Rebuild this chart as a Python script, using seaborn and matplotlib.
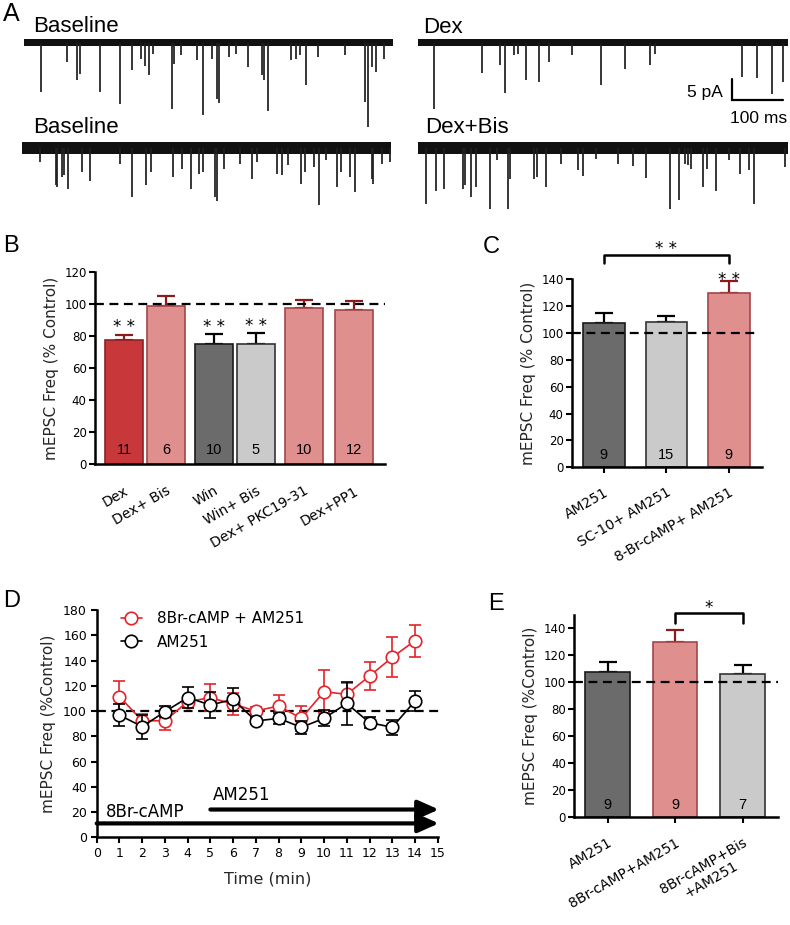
import numpy as np
import pandas as pd
import matplotlib
matplotlib.use('Agg')
import matplotlib.pyplot as plt
from matplotlib.lines import Line2D
import seaborn as sns

# ---------------- data ----------------
# Panel A: miniature EPSC events (time in ms, amplitude in pA)
base1_t = [33, 84, 104, 110, 149, 188, 211, 229, 237, 245, 253, 290, 294, 308, 339,
           350, 368, 379, 383, 402, 416, 438, 466, 471, 479, 523, 533, 541, 553, 576,
           629, 668, 674, 681, 690, 706]
base1_amp = [11.7, 4.5, 8.8, 7.4, 11.7, 14.5, 6.4, 3.8, 5.5, 7.6, 2.6, 15.7, 5.0, 2.9, 4.0,
             17.1, 3.8, 13.3, 14.3, 3.3, 2.6, 5.7, 7.6, 8.8, 16.2, 4.0, 3.8, 2.9, 10.0, 3.3,
             2.9, 14.0, 20.0, 5.7, 6.9, 3.8]
dex_t = [31, 124, 160, 170, 188, 196, 211, 237, 256, 301, 358, 405, 453, 463, 634, 662, 693, 714]
dex_amp = [15.9, 7.3, 5.2, 11.9, 2.9, 2.6, 8.8, 9.3, 4.5, 2.9, 10.0, 6.2, 5.2, 2.6, 8.1, 8.3,
           12.1, 9.3]
base2_t = [35, 67, 69, 78, 82, 90, 118, 134, 193, 217, 244, 253, 297, 315, 331, 348, 355,
           379, 382, 397, 428, 451, 462, 501, 510, 521, 547, 556, 572, 583, 596, 617, 626,
           643, 653, 686, 689, 706, 722]
base2_amp = [3.3, 8.8, 9.3, 6.9, 6.4, 9.8, 5.7, 7.9, 3.8, 11.7, 8.8, 5.7, 6.9, 5.0, 9.8, 6.2,
             5.7, 11.7, 12.6, 5.0, 3.8, 7.4, 3.3, 6.2, 6.4, 4.0, 8.6, 5.7, 4.5, 13.6, 2.9,
             9.3, 5.7, 6.9, 10.5, 7.4, 8.6, 3.8, 3.3]
dexbis_t = [16, 35, 52, 89, 93, 104, 114, 142, 155, 176, 181, 227, 233, 250, 280, 313, 323,
            348, 391, 421, 447, 493, 511, 523, 529, 535, 558, 566, 583, 609, 630, 648, 658, 717]
dexbis_amp = [13.3, 10.2, 9.8, 9.8, 8.8, 11.7, 9.3, 14.5, 2.9, 14.5, 7.4, 7.4, 6.9, 9.3, 3.8,
              5.2, 6.7, 2.6, 3.8, 4.3, 7.1, 14.5, 12.4, 3.8, 4.0, 5.0, 9.3, 5.0, 10.2, 2.9,
              6.2, 5.2, 13.3, 4.5]

# Panel B
b_labels = ['Dex', 'Dex+ Bis', 'Win', 'Win+ Bis', 'Dex+ PKC19-31', 'Dex+PP1']
b_mean = [77.5, 99.0, 75.5, 75.5, 97.5, 96.3]
b_sem = [3.5, 6.2, 6.0, 6.3, 5.5, 5.8]
b_n = [11, 6, 10, 5, 10, 12]
b_sig = ['* *', '', '* *', '* *', '', '']

# Panel C
c_labels = ['AM251', 'SC-10+ AM251', '8-Br-cAMP+ AM251']
c_mean = [107.5, 108.0, 130.0]
c_sem = [7.3, 5.0, 8.7]
c_n = [9, 15, 9]

# Panel D
d_time = [1, 2, 3, 4, 5, 6, 7, 8, 9, 10, 11, 12, 13, 14]
d_8br_mean = [111.4, 92.3, 92.3, 107.4, 110.6, 105.5, 100.0, 104.0, 94.2, 115.3, 113.2,
              127.7, 142.5, 155.7]
d_8br_sem = [12.5, 5.0, 7.0, 4.5, 10.5, 8.8, 3.5, 9.0, 10.0, 17.0, 9.0, 10.8, 15.8, 12.8]
d_am_mean = [96.8, 87.6, 99.5, 110.6, 104.8, 109.2, 92.1, 94.2, 87.1, 94.2, 106.0, 90.8,
             87.1, 107.9]
d_am_sem = [8.7, 9.6, 4.6, 8.6, 10.0, 9.0, 2.0, 4.3, 5.0, 6.3, 17.0, 4.6, 6.0, 8.0]

# Panel E
e_labels = ['AM251', '8Br-cAMP+AM251', '8Br-cAMP+Bis\n+AM251']
e_mean = [107.4, 130.0, 106.1]
e_sem = [7.4, 8.7, 6.7]
e_n = [9, 9, 7]

# ---------------- style ----------------
RED = '#C8373A'
PINK = '#E08F8F'
PINK_EDGE = '#A3454A'
DARKRED = '#8B1A1A'
DGRAY = '#6B6B6B'
LGRAY = '#CACACA'
LINE_RED = '#E3242B'

sns.set_theme(style='ticks')
plt.rcParams['font.family'] = ['DejaVu Sans']
plt.rcParams.update({
    'axes.linewidth': 1.8,
    'xtick.major.width': 1.5, 'ytick.major.width': 1.5,
    'xtick.major.size': 4, 'ytick.major.size': 4,
    'xtick.color': 'black', 'ytick.color': 'black',
    'axes.edgecolor': 'black', 'text.color': 'black',
})
ARIAL = 'Liberation Sans'

W, H = 790, 925
fig = plt.figure(figsize=(W / 100, H / 100), dpi=100)


def px_axes(x0, y0, x1, y1):
    return fig.add_axes([x0 / W, 1 - y1 / H, (x1 - x0) / W, (y1 - y0) / H])


def ptext(x, y, s, **kw):
    kw.setdefault('family', ARIAL)
    kw.setdefault('va', 'baseline')
    fig.text(x / W, 1 - y / H, s, **kw)


# ---------------- panel A ----------------
def draw_trace(ax, t, amp, band, ylo):
    ax.fill_between([0, 723], -band, band, color='#111111', lw=0)
    ax.vlines(t, 0, -np.asarray(amp), color='#1e1e1e', lw=1.25)
    ax.set_xlim(0, 723)
    ax.set_ylim(ylo, 3)
    ax.axis('off')


axA1 = px_axes(24, 30.1, 393, 135.1)
draw_trace(axA1, base1_t, base1_amp, 0.85, -22)
axA2 = px_axes(418.3, 30.1, 787.7, 135.1)
draw_trace(axA2, dex_t, dex_amp, 0.85, -22)
axA3 = px_axes(21.7, 135.1, 390.7, 214.9)
draw_trace(axA3, base2_t, base2_amp, 1.4, -16)
axA4 = px_axes(417.7, 135.1, 787.7, 214.9)
draw_trace(axA4, dexbis_t, dexbis_amp, 1.4, -16)
# scale bar 100 ms / 5 pA
axA2.plot([614, 614, 714], [-8.64, -13.64, -13.64], color='black', lw=1.6,
          clip_on=False, solid_joinstyle='miter')

ptext(3, 21, 'A', fontsize=18)
ptext(33, 32, 'Baseline', fontsize=16)
ptext(423, 33, 'Dex', fontsize=16)
ptext(33, 133, 'Baseline', fontsize=16)
ptext(425, 133, 'Dex+Bis', fontsize=16)
ptext(723, 97, '5 pA', fontsize=12.5, ha='right')
ptext(730, 123, '100 ms', fontsize=12.5, ha='left')


# ---------------- helpers for bar panels ----------------
def bar_panel(ax, pos, labels, means, sems, ns, colors, edges, ecolors, width,
              native=False):
    df = pd.DataFrame({'pos': pos, 'mean': means, 'label': labels})
    sns.barplot(data=df, x='pos', y='mean', hue='label',
                palette=dict(zip(labels, colors)), native_scale=native,
                width=width, errorbar=None, legend=False, linewidth=1.2, ax=ax,
                saturation=1, zorder=2)
    for p in ax.patches:
        cx = p.get_x() + p.get_width() / 2
        i = int(np.argmin([abs(cx - q) for q in pos]))
        p.set_edgecolor(edges[i])
    for i in range(len(pos)):
        ax.errorbar([pos[i]], [means[i]], yerr=[[0], [sems[i]]], fmt='none',
                    ecolor=ecolors[i], elinewidth=1.6, capsize=6.5, capthick=1.6,
                    zorder=1.5)
        ax.text(pos[i], 9, str(ns[i]), ha='center', va='center', fontsize=10.5,
                family=ARIAL, zorder=4)
    sns.despine(ax=ax)
    ax.tick_params(axis='y', labelsize=8.5, pad=2)
    ax.set_xlabel('')


# ---------------- panel B ----------------
axB = px_axes(95, 272.3, 385, 464.3)
b_slots = [0, 1, 2.14, 3.14, 4.29, 5.48]
bar_panel(axB, b_slots, b_labels, b_mean, b_sem, b_n,
          [RED, PINK, DGRAY, LGRAY, PINK, PINK],
          ['#8B2225', PINK_EDGE, '#1a1a1a', '#333333', PINK_EDGE, PINK_EDGE],
          [DARKRED, DARKRED, 'black', 'black', DARKRED, DARKRED], 0.9, native=True)
axB.set_xlim(-0.69, 6.22)
axB.set_ylim(0, 120)
axB.set_yticks(range(0, 121, 20))
axB.axhline(100, color='black', lw=1.6, ls=(0, (4, 2.5)), zorder=3)
for x, m, s, sig in zip(b_slots, b_mean, b_sem, b_sig):
    if sig:
        axB.text(x, m + s + 1.5, sig, ha='center', va='baseline', fontsize=12)
axB.set_xticks(b_slots, b_labels, rotation=30, ha='right', va='top',
               rotation_mode='anchor', fontsize=10)
axB.tick_params(axis='x', length=0, pad=14)
axB.set_ylabel('mEPSC Freq (% Control)', fontsize=11, labelpad=4)
ptext(3, 252, 'B', fontsize=17)

# ---------------- panel C ----------------
axC = px_axes(572, 279.3, 762, 467.3)
c_slots = [0, 1, 2]
bar_panel(axC, c_slots, c_labels, c_mean, c_sem, c_n,
          [DGRAY, LGRAY, PINK], ['#1a1a1a', '#333333', PINK_EDGE],
          ['black', 'black', DARKRED], 0.66)
axC.set_xlim(-0.51, 2.53)
axC.set_ylim(0, 140)
axC.set_yticks(range(0, 141, 20))
axC.plot([-0.51, 2.43], [100, 100], color='black', lw=1.6, ls=(0, (4, 2.5)), zorder=3)
axC.text(2, 136, '* *', ha='center', va='baseline', fontsize=12, zorder=5)
axC.plot([0, 0, 2, 2], [152, 158, 158, 152], color='black', lw=1.8, clip_on=False)
axC.text(1, 159, '* *', ha='center', va='baseline', fontsize=12)
axC.set_xticks(c_slots, c_labels, rotation=30, ha='right', va='top',
               rotation_mode='anchor', fontsize=10)
axC.tick_params(axis='x', pad=9)
axC.set_ylabel('mEPSC Freq (% Control)', fontsize=11, labelpad=4)
ptext(483, 253, 'C', fontsize=17)

# ---------------- panel D ----------------
axD = px_axes(96.7, 610, 437.7, 837.3)
axD.plot([0, 15.18], [100, 100], color='black', lw=1.6, ls=(0, (4, 2.5)),
         clip_on=False, zorder=1)
axD.errorbar(d_time, d_8br_mean, yerr=d_8br_sem, fmt='none', ecolor=LINE_RED,
             elinewidth=1.2, capsize=4, capthick=1.2, zorder=2)
sns.lineplot(x=d_time, y=d_8br_mean, color=LINE_RED, marker='o', markersize=9,
             markerfacecolor='white', markeredgecolor=LINE_RED, markeredgewidth=1.2,
             lw=1.2, ax=axD, zorder=3)
axD.errorbar(d_time, d_am_mean, yerr=d_am_sem, fmt='none', ecolor='black',
             elinewidth=1.2, capsize=4, capthick=1.2, zorder=4)
sns.lineplot(x=d_time, y=d_am_mean, color='black', marker='o', markersize=9,
             markerfacecolor='white', markeredgecolor='black', markeredgewidth=1.2,
             lw=1.2, ax=axD, zorder=5)
arrow_style = '-|>,head_length=0.9,head_width=0.4'
axD.annotate('', xy=(15.05, 11), xytext=(0, 11), annotation_clip=False,
             arrowprops=dict(arrowstyle=arrow_style, lw=3, color='black',
                             mutation_scale=14, shrinkA=0, shrinkB=0))
axD.annotate('', xy=(15.05, 22), xytext=(5, 22), annotation_clip=False,
             arrowprops=dict(arrowstyle=arrow_style, lw=3, color='black',
                             mutation_scale=14, shrinkA=0, shrinkB=0))
axD.text(0.41, 15.8, '8Br-cAMP', fontsize=12, va='baseline')
axD.text(5.13, 29.5, 'AM251', fontsize=12, va='baseline')
axD.set_xlim(0, 15)
axD.set_ylim(0, 180)
axD.set_xticks(range(0, 16))
axD.set_yticks(range(0, 181, 20))
sns.despine(ax=axD)
axD.tick_params(labelsize=9, pad=3)
axD.set_xlabel('Time (min)', fontsize=11.5, labelpad=8)
axD.set_ylabel('mEPSC Freq (%Control)', fontsize=11, labelpad=5)
handles = [Line2D([], [], color=LINE_RED, marker='o', markersize=9, mfc='white',
                  mec=LINE_RED, mew=1.2, lw=1.2),
           Line2D([], [], color='black', marker='o', markersize=9, mfc='white',
                  mec='black', mew=1.2, lw=1.2)]
axD.legend(handles, ['8Br-cAMP + AM251', 'AM251'], loc='upper left',
           bbox_to_anchor=(0.03, 1.055), frameon=False, fontsize=11,
           handlelength=1.4, handletextpad=1.0, labelspacing=0.55)
ptext(3, 607, 'D', fontsize=17)

# ---------------- panel E ----------------
axE = px_axes(574.3, 614.8, 778.3, 817.3)
e_slots = [0, 1, 2]
bar_panel(axE, e_slots, e_labels, e_mean, e_sem, e_n,
          [DGRAY, PINK, LGRAY], ['#1a1a1a', PINK_EDGE, '#333333'],
          ['black', DARKRED, 'black'], 0.66)
axE.set_xlim(-0.495, 2.53)
axE.set_ylim(0, 150)
axE.set_yticks(range(0, 141, 20))
axE.plot([-0.495, 2.53], [100, 100], color='black', lw=1.6, ls=(0, (4, 2.5)), zorder=3)
axE.plot([1, 1, 2, 2], [143.7, 151, 151, 143.7], color='black', lw=1.8, clip_on=False)
axE.text(1.5, 151.5, '*', ha='center', va='baseline', fontsize=12)
axE.set_xticks(e_slots, e_labels, rotation=30, ha='right', va='top',
               rotation_mode='anchor', fontsize=10, multialignment='center')
axE.tick_params(axis='x', pad=9)
axE.set_ylabel('mEPSC Freq (%Control)', fontsize=11, labelpad=4)
ptext(488, 610, 'E', fontsize=17)

fig.savefig('out.png', dpi=100)
